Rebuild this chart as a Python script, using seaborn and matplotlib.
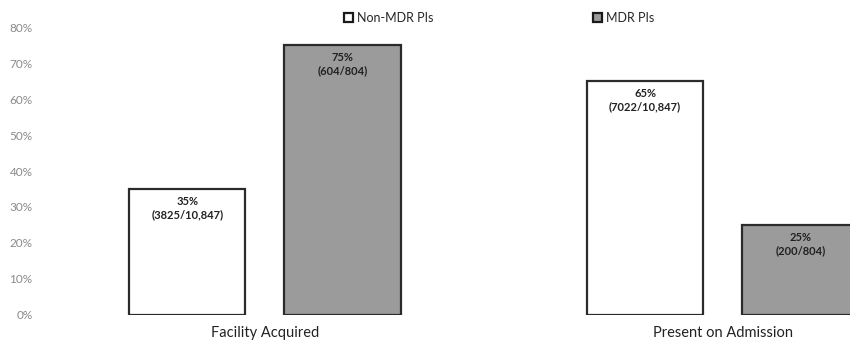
import matplotlib
matplotlib.use("Agg")
import matplotlib.pyplot as plt
import seaborn as sns
import pandas as pd
from matplotlib.patches import Patch

categories = ["Facility Acquired", "Present on Admission"]
series_names = ["Non-MDR PIs", "MDR PIs"]
non_mdr_pct = [35, 65]
mdr_pct = [75, 25]
non_mdr_counts = ["(3825/10,847)", "(7022/10,847)"]
mdr_counts = ["(604/804)", "(200/804)"]
yticks = [0, 10, 20, 30, 40, 50, 60, 70, 80]

df = pd.DataFrame({
    "category": categories * 2,
    "series": [series_names[0]] * 2 + [series_names[1]] * 2,
    "pct": non_mdr_pct + mdr_pct,
    "label": [f"{v}%\n{c}" for v, c in zip(non_mdr_pct, non_mdr_counts)]
             + [f"{v}%\n{c}" for v, c in zip(mdr_pct, mdr_counts)],
})

sns.set_theme(style="white")
plt.rcParams["font.family"] = ["Lato", "DejaVu Sans"]

fig = plt.figure(figsize=(8.5, 3.42), dpi=100)
ax = fig.add_axes([0.053, 0.079, 0.947, 0.842])

colors = {"Non-MDR PIs": "#ffffff", "MDR PIs": "#9b9b9b"}
sns.barplot(data=df, x="category", y="pct", hue="series", palette=colors,
            width=0.678, gap=0.25, edgecolor="#2b2b2b", linewidth=1.6,
            ax=ax, legend=False, saturation=1)

for container, name in zip(ax.containers, series_names):
    labs = df[df["series"] == name]["label"].tolist()
    for patch, lab in zip(container.patches, labs):
        ax.annotate(lab, xy=(patch.get_x() + patch.get_width() / 2, patch.get_height()),
                    xytext=(0, -5), textcoords="offset points", ha="center", va="top",
                    fontsize=8, fontweight="bold", color="#222222", linespacing=1.3)

ax.set_ylim(0, 80)
ax.set_xlim(-0.48, 1.278)
ax.set_yticks(yticks)
ax.set_yticklabels([f"{t}%" for t in yticks], color="#8a8a8a", fontsize=8.5)
ax.tick_params(axis="y", length=0, pad=9)
ax.tick_params(axis="x", length=0, pad=8, labelsize=10.5, labelcolor="#222222")
ax.set_xlabel("")
ax.set_ylabel("")
for s in ax.spines.values():
    s.set_visible(False)
ax.grid(False)

handles = [Patch(facecolor=colors[n], edgecolor="#1a1a1a", linewidth=1.6, label=n)
           for n in series_names]
fig.legend(handles=handles, loc="center", bbox_to_anchor=(0.587, 0.947), ncol=2,
           frameon=False, fontsize=9, handlelength=0.7, handleheight=0.7,
           handletextpad=0.3, columnspacing=12.8)

fig.savefig("out.png", dpi=100)
